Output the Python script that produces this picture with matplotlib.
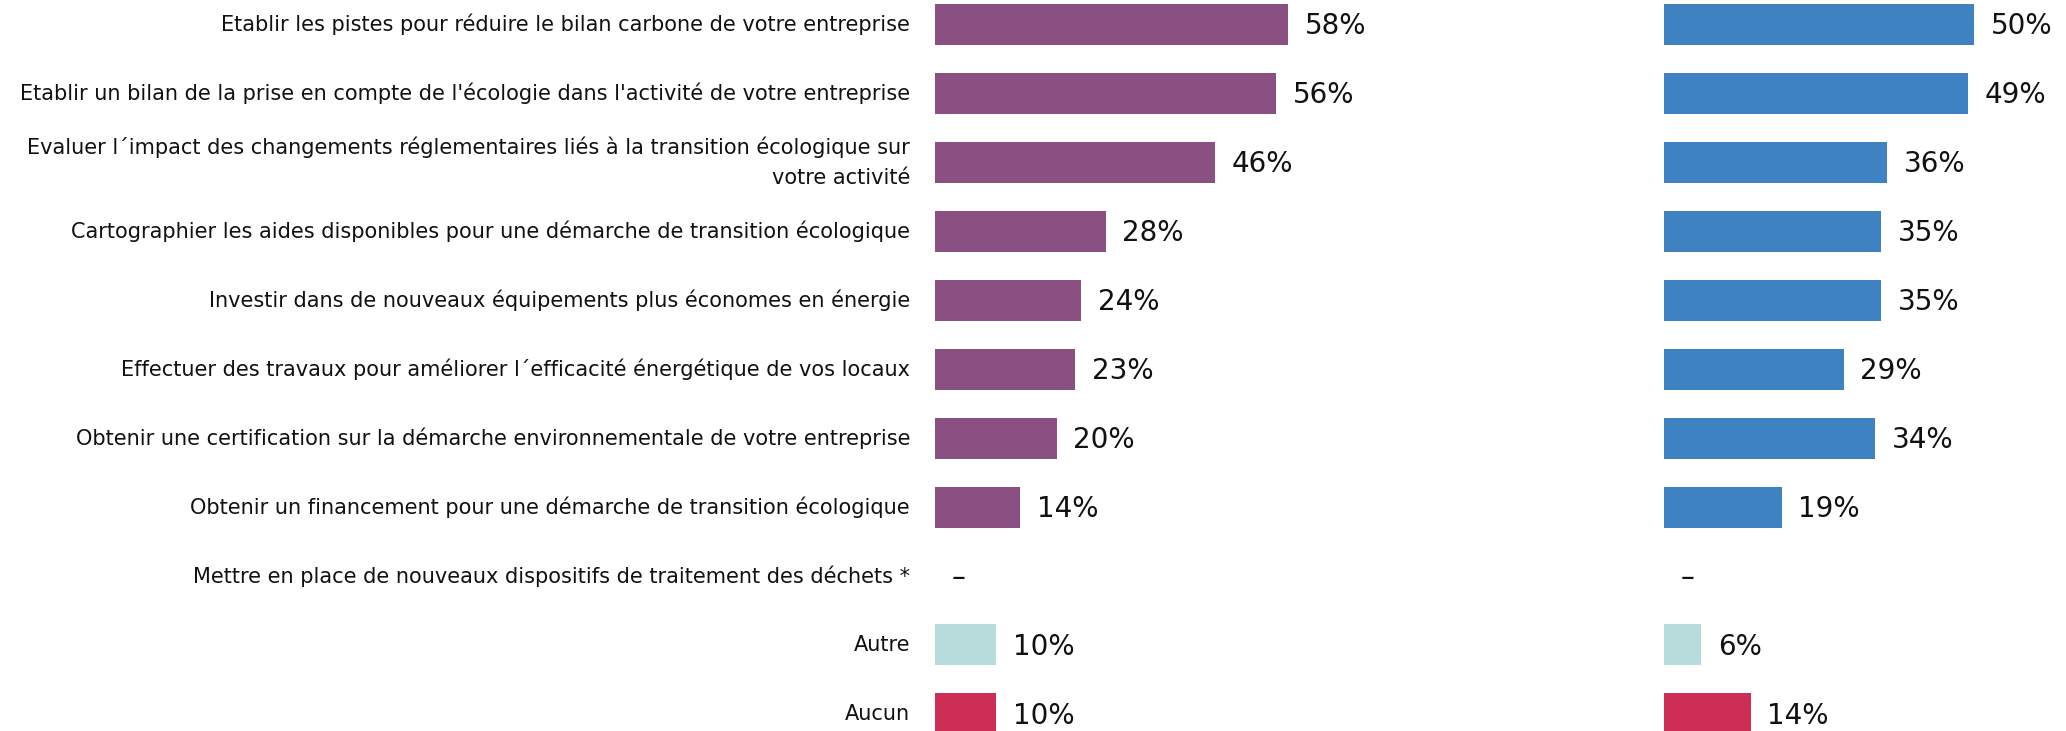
import numpy as np
import matplotlib
matplotlib.use("Agg")
import matplotlib.pyplot as plt

# =====================================
# Data
# =====================================
categories = [
    "Etablir les pistes pour réduire le bilan carbone de votre entreprise",
    "Etablir un bilan de la prise en compte de l'écologie dans l'activité de votre entreprise",
    "Evaluer l´impact des changements réglementaires liés à la transition écologique sur\nvotre activité",
    "Cartographier les aides disponibles pour une démarche de transition écologique",
    "Investir dans de nouveaux équipements plus économes en énergie",
    "Effectuer des travaux pour améliorer l´efficacité énergétique de vos locaux",
    "Obtenir une certification sur la démarche environnementale de votre entreprise",
    "Obtenir un financement pour une démarche de transition écologique",
    "Mettre en place de nouveaux dispositifs de traitement des déchets *",
    "Autre",
    "Aucun",
]
left_values = [58, 56, 46, 28, 24, 23, 20, 14, None, 10, 10]
right_values = [50, 49, 36, 35, 35, 29, 34, 19, None, 6, 14]

purple = "#8B5082"
blue = "#3E82C2"
teal = "#B8DCDB"
crimson = "#CC2E55"
left_colors = [purple] * 9 + [teal, crimson]
right_colors = [blue] * 9 + [teal, crimson]

# =====================================
# Figure
# =====================================
W, H = 2066, 731
fig = plt.figure(figsize=(W / 100, H / 100), dpi=100)

row0, step, bar_h = 24, 69, 41
ylim = ((H - row0) / step, -row0 / step)

font = "DejaVu Sans"


def panel(x0, px_per_pct, values, colors, show_labels):
    xmax = 60
    ax = fig.add_axes([x0 / W, 0, px_per_pct * xmax / W, 1])
    y = np.arange(len(values))
    vals = [v if v is not None else 0 for v in values]
    ax.barh(y, vals, height=bar_h / step, color=colors, edgecolor="none")
    ax.set_xlim(0, xmax)
    ax.set_ylim(*ylim)
    for yi, v in zip(y, values):
        txt = f"{v}%" if v is not None else "–"
        ax.annotate(txt, (vals[yi], yi), xytext=(12, -1.5), textcoords="offset points",
                    va="center", ha="left", fontsize=20, family=font, color="#111111")
    for s in ax.spines.values():
        s.set_visible(False)
    ax.set_xticks([])
    ax.tick_params(axis="y", length=0, pad=18)
    ax.set_yticks(y)
    if show_labels:
        ax.set_yticklabels(categories, fontsize=15, family=font, color="#111111",
                           linespacing=1.65, va="center")
    else:
        ax.set_yticklabels([])
    return ax


panel(935, 6.09, left_values, left_colors, True)
panel(1664, 6.2, right_values, right_colors, False)

fig.savefig("out.png", dpi=100)
